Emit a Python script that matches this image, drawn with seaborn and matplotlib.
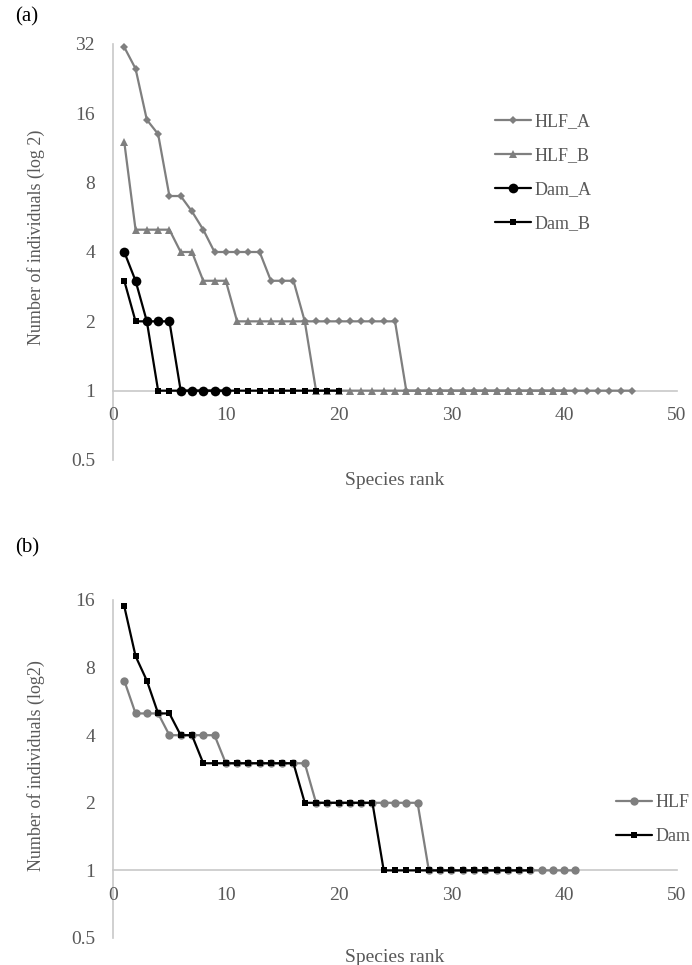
import matplotlib
matplotlib.use("Agg")
import matplotlib.pyplot as plt
import seaborn as sns
from matplotlib.ticker import FixedLocator, NullLocator

# panel (a) - abundance per species rank
hlf_a = [31, 25, 15, 13, 7, 7, 6, 5, 4, 4, 4, 4, 4, 3, 3, 3,
         2, 2, 2, 2, 2, 2, 2, 2, 2,
         1, 1, 1, 1, 1, 1, 1, 1, 1, 1, 1, 1, 1, 1, 1, 1, 1, 1, 1, 1, 1]
hlf_b = [12, 5, 5, 5, 5, 4, 4, 3, 3, 3,
         2, 2, 2, 2, 2, 2, 2,
         1, 1, 1, 1, 1, 1, 1, 1, 1, 1, 1, 1, 1, 1, 1, 1, 1, 1, 1, 1, 1, 1, 1]
dam_a = [4, 3, 2, 2, 2, 1, 1, 1, 1, 1]
dam_b = [3, 2, 2, 1, 1, 1, 1, 1, 1, 1, 1, 1, 1, 1, 1, 1, 1, 1, 1, 1]

# panel (b) - pooled
hlf = [7, 5, 5, 5, 4, 4, 4, 4, 4, 3, 3, 3, 3, 3, 3, 3, 3,
       2, 2, 2, 2, 2, 2, 2, 2, 2, 2,
       1, 1, 1, 1, 1, 1, 1, 1, 1, 1, 1, 1, 1, 1]
dam = [15, 9, 7, 5, 5, 4, 4, 3, 3, 3, 3, 3, 3, 3, 3, 3,
       2, 2, 2, 2, 2, 2, 2,
       1, 1, 1, 1, 1, 1, 1, 1, 1, 1, 1, 1, 1, 1]

y_ticks_a = [0.5, 1, 2, 4, 8, 16, 32]
y_ticks_b = [0.5, 1, 2, 4, 8, 16]
x_ticks = [0, 10, 20, 30, 40, 50]

GRAY = "#7f7f7f"
TXT = "#595959"
AXC = "#c8c8c8"

sns.set_style("white")
plt.rcParams["font.family"] = ["Liberation Serif", "DejaVu Serif"]
plt.rcParams["font.size"] = 14

fig = plt.figure(figsize=(6.92, 9.65), dpi=100)
W, H = 692, 965


def make_ax(top_px, bot_px):
    left, right = 113, 677
    return fig.add_axes([left / W, 1 - bot_px / H, (right - left) / W, (bot_px - top_px) / H])


def style_ax(ax, ticks, ylabel, ylab_y):
    ax.set_yscale("log", base=2)
    ax.set_ylim(0.5, ticks[-1])
    ax.set_xlim(0, 50)
    ax.yaxis.set_major_locator(FixedLocator(ticks))
    ax.set_yticklabels([("%g" % t) for t in ticks])
    ax.yaxis.set_minor_locator(NullLocator())
    ax.xaxis.set_major_locator(FixedLocator(x_ticks))
    ax.set_xticklabels([str(t) for t in x_ticks])
    for s in ["top", "right"]:
        ax.spines[s].set_visible(False)
    ax.spines["bottom"].set_position(("data", 1))
    for s in ["bottom", "left"]:
        ax.spines[s].set_color(AXC)
        ax.spines[s].set_linewidth(1.2)
        ax.spines[s].set_zorder(0.5)
    ax.tick_params(axis="both", length=0, colors=TXT, labelsize=14)
    ax.tick_params(axis="y", pad=13)
    ax.tick_params(axis="x", pad=12)
    ax.set_ylabel(ylabel, color=TXT, fontsize=13)
    ax.yaxis.set_label_coords(-0.12, ylab_y)
    ax.set_xlabel("Species rank", color=TXT, fontsize=14)
    ax.patch.set_alpha(0)


def add_legend(ax, x_px, y_px):
    ax.legend(loc="upper left", bbox_to_anchor=(x_px / W, 1 - y_px / H),
              bbox_transform=fig.transFigure, frameon=False, fontsize=13,
              handlelength=2.0, handletextpad=0.2, labelspacing=0.95,
              borderpad=0, borderaxespad=0, labelcolor=TXT)


# ---- panel (a)
ax1 = make_ax(44, 460)
series_a = [
    (hlf_a, "HLF_A", GRAY, "D", 4.5),
    (hlf_b, "HLF_B", GRAY, "^", 6),
    (dam_a, "Dam_A", "black", "o", 7),
    (dam_b, "Dam_B", "black", "s", 5),
]
for vals, name, col, mk, ms in series_a:
    sns.lineplot(x=list(range(1, len(vals) + 1)), y=vals, ax=ax1, color=col,
                 marker=mk, markersize=ms, markeredgewidth=0, linewidth=1.6,
                 label=name, clip_on=False, zorder=3)
style_ax(ax1, y_ticks_a, "Number of individuals (log 2)", 0.535)
ax1.xaxis.set_label_coords(0.5, -0.03)
add_legend(ax1, 495, 113)

# ---- panel (b)
ax2 = make_ax(600, 938)
series_b = [
    (hlf, "HLF", GRAY, "o", 6),
    (dam, "Dam", "black", "s", 5),
]
for vals, name, col, mk, ms in series_b:
    sns.lineplot(x=list(range(1, len(vals) + 1)), y=vals, ax=ax2, color=col,
                 marker=mk, markersize=ms, markeredgewidth=0, linewidth=1.6,
                 label=name, clip_on=False, zorder=3)
style_ax(ax2, y_ticks_b, "Number of individuals (log2)", 0.51)
ax2.xaxis.set_label_coords(0.5, -0.034)
add_legend(ax2, 616, 794)

fig.text(15 / W, 1 - 17 / H, "(a)", fontsize=15, color="black", va="center")
fig.text(15 / W, 1 - 548 / H, "(b)", fontsize=15, color="black", va="center")

fig.savefig("out.png", dpi=100)
